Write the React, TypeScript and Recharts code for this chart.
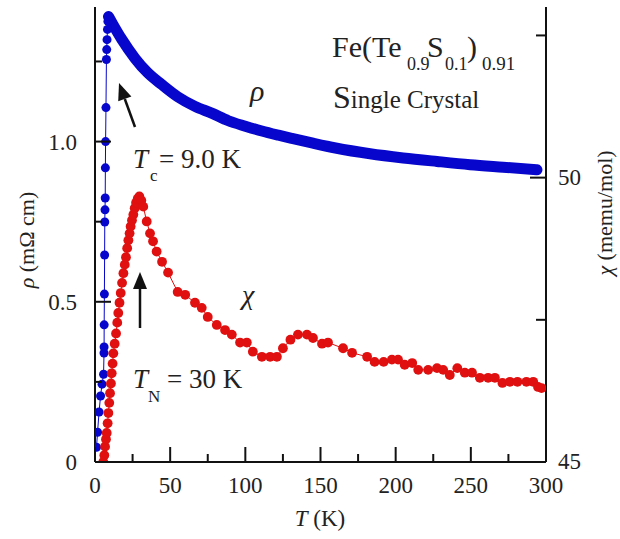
import React from "react";
import { ComposedChart, Line, XAxis, YAxis, Customized } from "recharts";

// temperature axis ticks (K), majors every 50
const tempTicks = [0, 25, 50, 75, 100, 125, 150, 175, 200, 225, 250, 275, 300];
// resistivity ticks (mOhm cm), majors every 0.5
const rhoTicks = [0, 0.25, 0.5, 0.75, 1.0, 1.25];
// susceptibility ticks (memu/mol), majors every 5
const chiTicks = [45, 47.5, 50, 52.5];

// rho, superconducting drop below Tc
const rhoLowT = [1.0, 1.7, 2.7, 3.7, 4.7, 5.7, 6.0, 6.05, 6.1, 6.25, 6.4, 6.5, 6.65, 6.8, 6.9, 7.05, 7.3, 7.6, 7.8, 8.0, 8.3, 8.6, 9.0];
const rhoLowV = [0.046, 0.093, 0.156, 0.206, 0.243, 0.274, 0.34, 0.359, 0.428, 0.524, 0.646, 0.749, 0.787, 0.824, 0.918, 1.0, 1.106, 1.256, 1.287, 1.318, 1.35, 1.375, 1.39];

// rho, normal state (dense data -> thick band)
const rhoBandT = [9, 12, 17.7, 26.6, 35, 44.4, 55, 66.5, 78, 88.7, 100, 111, 122, 131, 145, 160, 183, 205, 227.5, 249.5, 271.5, 294];
const rhoBandV = [1.39, 1.365, 1.32, 1.26, 1.215, 1.178, 1.14, 1.11, 1.088, 1.065, 1.048, 1.033, 1.02, 1.01, 0.995, 0.98, 0.962, 0.949, 0.938, 0.928, 0.92, 0.912];

// chi
const chiT = [
  5.5, 6.2, 6.7, 7.3, 7.8, 8.4, 8.9, 9.5, 10, 10.6, 11.1, 11.7, 12.2, 13.1, 14, 14.8, 15.5, 16.3, 17.1, 18, 18.9,
  19.8, 20.6, 21.4, 22.2, 23, 23.7, 24.6, 25.5, 26.4, 27.3, 28.4, 29.5,
  30.8, 32.1, 34.4, 36.6, 38.6, 41, 44.6, 48.6, 55, 60, 66.5, 71, 75, 81, 86.5, 91, 96.5, 101, 105,
  111, 116.5, 121, 125, 130, 135, 141, 145, 151, 155, 165, 171, 181, 186, 192, 197.5, 201.6,
  206, 211, 215, 221.6, 227.5, 231.6, 236, 241, 246, 250.8, 256, 261.5, 266, 271, 276, 281,
  287, 291.5, 294.7, 297,
];
const chiV = [
  45.0, 45.12, 45.27, 45.4, 45.51, 45.68, 45.86, 46.04, 46.21, 46.38, 46.56, 46.73, 46.91, 47.08, 47.26, 47.45, 47.62, 47.8, 47.97, 48.15, 48.32,
  48.47, 48.6, 48.76, 48.9, 49.02, 49.14, 49.25, 49.35, 49.46, 49.56, 49.63, 49.67,
  49.6, 49.49, 49.23, 49.02, 48.88, 48.7, 48.52, 48.33, 47.99, 47.94, 47.8, 47.71, 47.55, 47.41, 47.32, 47.24, 47.1, 47.1, 46.94,
  46.85, 46.85, 46.85, 47.0, 47.15, 47.24, 47.24, 47.18, 47.08, 47.1, 47.0, 46.92, 46.85, 46.76, 46.76, 46.8, 46.8,
  46.71, 46.74, 46.62, 46.62, 46.65, 46.62, 46.53, 46.65, 46.57, 46.57, 46.48, 46.48, 46.48, 46.39, 46.41, 46.41,
  46.41, 46.41, 46.32, 46.3,
];

const BLUE = "#0606cc";
const RED = "#e01010";
const INK = "#222";
const FONT = "Liberation Serif";
const serif = { fontFamily: FONT };

const rhoLow = rhoLowT.map((T, i) => ({ T, rho: rhoLowV[i] }));
const rhoBand = rhoBandT.map((T, i) => ({ T, rho: rhoBandV[i] }));
const chi = chiT.map((T, i) => ({ T, chi: chiV[i] }));

const BottomTick = (props: any) => {
  const { x, y, payload } = props;
  const major = payload.value % 50 === 0;
  return (
    <g>
      <line x1={x} y1={y} x2={x} y2={y - (major ? 15 : 8)} stroke="#111" strokeWidth={2} />
      {major && (
        <text x={x} y={y + 31} textAnchor="middle" fontSize={23} style={serif} fill={INK}>
          {payload.value}
        </text>
      )}
    </g>
  );
};

const TopTick = (props: any) => {
  const { x, y, payload } = props;
  const major = payload.value % 50 === 0;
  return <line x1={x} y1={y} x2={x} y2={y + (major ? 15 : 8)} stroke="#111" strokeWidth={2} />;
};

const LeftTick = (props: any) => {
  const { x, y, payload } = props;
  const v = payload.value;
  const major = Math.abs(v * 2 - Math.round(v * 2)) < 1e-6;
  const label = v === 0 ? "0" : v.toFixed(1);
  return (
    <g>
      <line x1={x} y1={y} x2={x + (major ? 16 : 7)} y2={y} stroke="#111" strokeWidth={2} />
      {major && (
        <text x={x - 18} y={y + 8} textAnchor="end" fontSize={23} style={serif} fill={INK}>
          {label}
        </text>
      )}
    </g>
  );
};

const RightTick = (props: any) => {
  const { x, y, payload } = props;
  const major = payload.value % 5 === 0;
  return (
    <g>
      <line x1={x} y1={y} x2={x - (major ? 16 : 10)} y2={y} stroke="#111" strokeWidth={2} />
      {major && (
        <text x={x + 12} y={y + 7} textAnchor="start" fontSize={23} style={serif} fill={INK}>
          {payload.value}
        </text>
      )}
    </g>
  );
};

const Arrow = ({ x1, y1, x2, y2 }: { x1: number; y1: number; x2: number; y2: number }) => {
  const ang = Math.atan2(y2 - y1, x2 - x1);
  const len = 17;
  const hw = 7;
  const bx = x2 - len * Math.cos(ang);
  const by = y2 - len * Math.sin(ang);
  const px = -Math.sin(ang) * hw;
  const py = Math.cos(ang) * hw;
  return (
    <g>
      <line x1={x1} y1={y1} x2={bx} y2={by} stroke="#111" strokeWidth={2.5} />
      <polygon points={`${x2},${y2} ${bx + px},${by + py} ${bx - px},${by - py}`} fill="#111" />
    </g>
  );
};

const Annotations = () => (
  <g style={serif} fill={INK}>
    {/* axis titles */}
    <text x={320} y={526} textAnchor="middle" fontSize={23} style={serif}>
      <tspan fontStyle="italic">T</tspan> (K)
    </text>
    <text transform="translate(34,240) rotate(-90)" textAnchor="middle" fontSize={22} style={serif}>
      <tspan fontStyle="italic">ρ</tspan> (mΩ cm)
    </text>
    <text transform="translate(612,213) rotate(-90)" textAnchor="middle" fontSize={22} style={serif}>
      <tspan fontStyle="italic">χ</tspan> (memu/mol)
    </text>

    {/* compound */}
    <text x={332} y={57} fontSize={30} style={serif}>Fe(Te</text>
    <text x={407} y={70} fontSize={18} style={serif}>0.9</text>
    <text x={427} y={57} fontSize={30} style={serif}>S</text>
    <text x={445} y={70} fontSize={18} style={serif}>0.1</text>
    <text x={467} y={57} fontSize={30} style={serif}>)</text>
    <text x={482} y={70} fontSize={19} style={serif}>0.91</text>
    <text x={333} y={108} fontSize={25} style={serif}>
      <tspan fontSize={32}>S</tspan>ingle Crystal
    </text>

    {/* series labels */}
    <text x={250} y={101} fontSize={30} fontStyle="italic" style={serif}>ρ</text>
    <text x={242} y={304} fontSize={28} fontStyle="italic" style={serif}>χ</text>

    {/* transition temperatures */}
    <text x={133} y={168} fontSize={27} fontStyle="italic" style={serif}>T</text>
    <text x={150} y={181} fontSize={17} style={serif}>c</text>
    <text x={159} y={168} fontSize={27} style={serif}>= 9.0 K</text>
    <text x={133} y={388} fontSize={27} fontStyle="italic" style={serif}>T</text>
    <text x={148} y={402} fontSize={17} style={serif}>N</text>
    <text x={167} y={388} fontSize={27} style={serif}>= 30 K</text>

    <Arrow x1={135} y1={127} x2={119} y2={83} />
    <Arrow x1={140} y1={328} x2={140} y2={272} />
  </g>
);

export default function App() {
  return (
    <div style={{ position: "absolute", left: 0, top: 0, background: "#fff" }}>
      <ComposedChart width={620} height={539} margin={{ top: 7, right: 0, bottom: 0, left: 0 }}>
        <XAxis
          xAxisId="bottom"
          type="number"
          dataKey="T"
          domain={[0, 300]}
          ticks={tempTicks}
          allowDataOverflow
          height={77}
          tickSize={0}
          tickMargin={0}
          tickLine={false}
          axisLine={{ stroke: "#111", strokeWidth: 2 }}
          tick={<BottomTick />}
          interval={0}
        />
        <XAxis
          xAxisId="top"
          orientation="top"
          type="number"
          dataKey="T"
          domain={[0, 300]}
          ticks={tempTicks}
          allowDataOverflow
          height={0}
          tickSize={0}
          tickMargin={0}
          tickLine={false}
          axisLine={{ stroke: "#111", strokeWidth: 2 }}
          tick={<TopTick />}
          interval={0}
        />
        <YAxis
          yAxisId="rho"
          type="number"
          domain={[0, 1.42]}
          ticks={rhoTicks}
          allowDataOverflow
          width={95}
          tickSize={0}
          tickMargin={0}
          tickLine={false}
          axisLine={{ stroke: "#111", strokeWidth: 2 }}
          tick={<LeftTick />}
          interval={0}
        />
        <YAxis
          yAxisId="chi"
          orientation="right"
          type="number"
          domain={[45, 53]}
          ticks={chiTicks}
          allowDataOverflow
          width={74}
          tickSize={0}
          tickMargin={0}
          tickLine={false}
          axisLine={{ stroke: "#111", strokeWidth: 2 }}
          tick={<RightTick />}
          interval={0}
        />
        <Line
          data={rhoBand}
          dataKey="rho"
          xAxisId="bottom"
          yAxisId="rho"
          type="monotone"
          stroke={BLUE}
          strokeWidth={11}
          strokeLinecap="round"
          dot={false}
          activeDot={false}
          isAnimationActive={false}
        />
        <Line
          data={rhoLow}
          dataKey="rho"
          xAxisId="bottom"
          yAxisId="rho"
          type="linear"
          stroke={BLUE}
          strokeWidth={1}
          dot={{ r: 4.5, fill: BLUE, stroke: BLUE, strokeWidth: 0 }}
          activeDot={false}
          isAnimationActive={false}
        />
        <Line
          data={chi}
          dataKey="chi"
          xAxisId="bottom"
          yAxisId="chi"
          type="linear"
          stroke={RED}
          strokeWidth={1}
          dot={{ r: 4.9, fill: RED, stroke: RED, strokeWidth: 0 }}
          activeDot={false}
          isAnimationActive={false}
        />
        <Customized component={Annotations} />
      </ComposedChart>
    </div>
  );
}
